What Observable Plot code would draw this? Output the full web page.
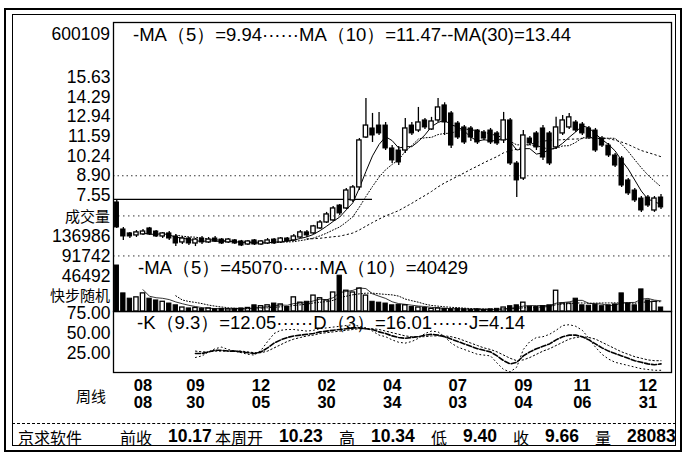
<!DOCTYPE html>
<html><head><meta charset="utf-8">
<script src="https://cdn.jsdelivr.net/npm/d3@7"></script>
<script src="https://cdn.jsdelivr.net/npm/@observablehq/plot@0.6"></script>
<style>
body{margin:0;background:#fff;}
#wrap{position:relative;width:685px;height:456px;overflow:hidden;font-family:"Liberation Sans",Arial,sans-serif;color:#000;background:#fff;}
#wrap svg{position:absolute;left:0;top:0;}
.t{position:absolute;white-space:nowrap;line-height:1;}
.cjk{font-family:"Noto Sans CJK SC",sans-serif;}
.box{position:absolute;box-sizing:border-box;}
</style></head><body><div id="wrap"></div>
<script>
// ---------- data ----------
const symbol = "600109";
const priceTicks = [15.63, 14.29, 12.94, 11.59, 10.24, 8.90, 7.55];
const priceGrid = [8.90];
const levelPrice = 7.28;          // solid horizontal level line
const levelSpan = [-0.5, 39];     // week index range of that line
const open  = [7.07,5.22,4.95,4.81,4.88,5.29,5.08,4.74,4.95,4.74,4.33,4.60,4.26,4.60,4.33,4.60,4.53,4.33,4.47,4.40,4.19,4.47,4.19,4.26,4.53,4.33,4.60,4.47,4.67,5.02,4.95,5.29,5.70,5.84,6.86,6.66,7.21,8.10,11.52,12.14,12.34,12.34,10.77,10.63,10.63,12.34,12.00,12.69,12.07,12.69,13.72,13.17,12.48,12.21,12.14,12.00,11.86,12.00,11.80,11.32,12.69,9.74,8.71,11.45,11.80,12.14,11.80,10.84,11.80,12.21,12.55,12.41,12.14,12.00,11.45,10.97,10.29,10.08,8.58,7.89,7.34,7.41,6.52,7.41];
const close = [5.36,4.74,4.74,5.02,5.08,4.88,4.74,4.95,4.60,4.26,4.60,4.26,4.53,4.33,4.53,4.40,4.26,4.53,4.26,4.12,4.40,4.19,4.40,4.47,4.26,4.60,4.40,4.74,5.02,4.81,5.43,5.70,6.25,6.66,6.32,7.89,8.10,11.32,12.34,11.66,11.80,10.77,9.95,9.81,12.14,11.80,12.55,12.21,12.62,13.58,12.55,10.97,11.52,11.18,11.52,11.18,11.45,11.18,11.11,12.69,9.74,8.58,11.66,11.11,10.84,10.15,9.74,12.21,12.69,12.90,12.00,11.80,11.52,10.63,10.97,10.29,9.60,8.23,7.69,7.21,6.52,6.86,7.34,6.73];
const high  = [7.21,5.36,5.02,5.15,5.22,5.36,5.15,5.02,5.08,4.88,4.74,4.67,4.60,4.74,4.67,4.74,4.60,4.60,4.53,4.47,4.47,4.53,4.47,4.60,4.60,4.67,4.67,4.88,5.15,5.15,5.50,5.84,6.39,6.80,6.93,8.03,8.23,11.45,14.20,13.17,13.24,12.55,10.97,10.90,12.82,12.55,13.58,12.82,12.90,14.20,13.90,13.30,12.62,12.34,12.28,12.07,12.00,12.14,11.93,13.24,12.82,9.88,12.00,11.59,11.93,12.34,11.93,12.90,13.03,13.17,12.69,12.55,12.28,12.14,11.59,11.11,10.43,10.22,8.71,8.03,7.48,7.55,7.48,7.62];
const low   = [5.29,4.47,4.60,4.67,4.81,4.81,4.67,4.60,4.47,4.05,4.19,4.12,4.05,4.19,4.26,4.33,4.19,4.26,4.19,4.05,4.12,4.12,4.12,4.19,4.19,4.26,4.33,4.40,4.60,4.67,4.88,5.22,5.63,5.77,6.18,6.59,7.07,7.90,11.45,11.18,11.66,10.63,9.74,9.60,10.43,11.66,11.86,12.07,12.00,12.55,11.66,10.77,11.38,11.04,11.25,11.04,11.30,11.04,10.97,11.11,9.60,7.41,8.58,10.97,10.63,9.95,9.60,10.70,11.66,12.07,11.86,11.66,11.38,10.50,10.84,10.15,9.47,8.10,7.55,7.07,6.39,6.73,6.39,6.59];
const volume = [104000,41000,29000,32000,41000,29000,25000,22000,18000,14000,9000,7000,8000,6000,7000,5000,6000,5000,6000,7000,8000,14000,12000,14000,18000,16000,10000,32000,20000,22000,36000,30000,25000,43000,81000,47000,43000,52000,36000,22000,20000,18000,14000,15000,14000,10000,9000,8000,6000,7000,6000,5000,6000,5000,4000,5000,4000,5000,6000,9000,12000,14000,20000,11000,10000,12000,14000,47000,18000,18000,29000,14000,13000,15000,12000,14000,16000,41000,18000,14000,50000,25000,22000,9000];
const volTicks = [136986, 91742, 46492];
const volGrid = [182230, 91742];
const kdjStart = 12;
const K = [25,25,27,29,29,28,28,27,26,25,27,32,38,42,45,47,48,49,50,52,53,54,55,56,57,57,56,55,52,50,47,45,44,45,46,48,49,48,46,43,40,37,34,31,29,27,22,16,12,14,22,27,31,34,37,42,46,48,48,46,42,37,32,28,25,22,19,16,14,12,11,12];
const D = [28,27,27,28,28,28,28,28,27,26,26,28,32,36,40,43,45,47,48,50,51,52,53,54,55,56,56,56,55,53,51,49,47,46,46,46,47,47,47,46,44,41,38,35,32,30,27,23,19,16,17,20,24,28,31,35,39,43,45,46,45,43,39,35,31,27,24,21,19,17,16,16];
const J = [20,22,27,31,33,30,28,26,24,23,29,40,50,54,55,55,54,53,54,56,57,58,59,60,61,59,57,53,48,46,42,39,38,40,44,50,53,52,46,38,33,30,27,24,23,22,13,5,2,8,30,40,45,46,49,54,60,61,59,54,44,33,24,18,14,12,10,8,6,5,4,4];
const kdjTicks = [75, 50, 25];
const dateTicks = [4, 12, 22, 32, 42, 52, 62, 71, 81];
const dateLabels = ["08\n08","09\n30","12\n05","02\n30","04\n34","07\n03","09\n04","11\n06","12\n31"];
const priceLegend = "-MA（5）=9.94······MA（10）=11.47--MA(30)=13.44";
const volLegend = "-MA（5）=45070······MA（10）=40429";
const kdjLegend = "-K（9.3）=12.05······D（3）=16.01······J=4.14";
const sideLabels = {vol: "成交量", kdj: "快步随机", period: "周线"};
const footerLabels = ["京求软件","前收","10.17","本周开","10.23","高","10.34","低","9.40","收","9.66","量","28083"];

// ---------- build ----------
const rows = open.map((o, i) => ({i, open: o, close: close[i], high: high[i], low: low[i], volume: volume[i]}));
const up = rows.filter(d => d.close >= d.open);
const down = rows.filter(d => d.close < d.open);
const kdjRows = K.map((k, j) => ({i: kdjStart + j, K: k, D: D[j], J: J[j]}));
const hw = 0.33;
const xDomain = [-0.5, 84.6];
const volShift = -15;
const common = {
  width: 685, height: 456, marginLeft: 113, marginRight: 14,
  style: {background: "transparent", fontFamily: "'Liberation Sans', Arial, sans-serif", overflow: "visible"}
};
const wrap = document.getElementById("wrap");

const pricePlot = Plot.plot({
  ...common, marginTop: 22, marginBottom: 145,
  x: {domain: xDomain, axis: null},
  y: {domain: [-0.4, 19.4], axis: null, label: null},
  marks: [
    Plot.ruleY(priceGrid, {stroke: "#000", strokeWidth: 0.8, strokeDasharray: "1.5,3"}),
    Plot.ruleY([levelPrice], {x1: levelSpan[0], x2: levelSpan[1], stroke: "#000", strokeWidth: 1.2}),
    Plot.lineY(rows, Plot.windowY({k: 30, anchor: "end", strict: true}, {x: "i", y: "close", stroke: "#000", strokeWidth: 1, strokeDasharray: "1.5,3"})),
    Plot.lineY(rows, Plot.windowY({k: 10, anchor: "end", strict: true}, {x: "i", y: "close", stroke: "#000", strokeWidth: 1, strokeDasharray: "1,2"})),
    Plot.lineY(rows, Plot.windowY({k: 5, anchor: "end", strict: true}, {x: "i", y: "close", stroke: "#000", strokeWidth: 1})),
    Plot.ruleX(rows, {x: "i", y1: "low", y2: "high", stroke: "#000", strokeWidth: 1.3}),
    Plot.rect(down, {x1: d => d.i - hw, x2: d => d.i + hw, y1: "open", y2: "close", fill: "#000", stroke: "#000", strokeWidth: 1}),
    Plot.rect(up, {x1: d => d.i - hw, x2: d => d.i + hw, y1: "open", y2: "close", fill: "#fff", stroke: "#000", strokeWidth: 1.3}),
    Plot.axisY(priceTicks, {anchor: "left", tickSize: 0, tickPadding: 3, fontSize: 17.5, tickFormat: d => d.toFixed(2), label: null}),
    Plot.frame({stroke: "#000", strokeWidth: 1.3})
  ]
});
wrap.appendChild(pricePlot);

const volPlot = Plot.plot({
  ...common, marginTop: 22, marginBottom: 145,
  x: {domain: xDomain, axis: null},
  y: {domain: [0, 653700], axis: null, label: null},
  marks: [
    Plot.ruleY(volGrid, {dy: volShift, stroke: "#000", strokeWidth: 0.8, strokeDasharray: "1.5,3.5"}),
    Plot.rect(down, {x1: d => d.i - hw, x2: d => d.i + hw, y1: 0, y2: "volume", fill: "#000", stroke: "#000", strokeWidth: 1}),
    Plot.rect(up, {x1: d => d.i - hw, x2: d => d.i + hw, y1: 0, y2: "volume", fill: "#fff", stroke: "#000", strokeWidth: 1.3}),
    Plot.lineY(rows, Plot.windowY({k: 10, anchor: "end", strict: true}, {x: "i", y: "volume", stroke: "#000", strokeWidth: 1, strokeDasharray: "1,2"})),
    Plot.lineY(rows, Plot.windowY({k: 5, anchor: "end", strict: true}, {x: "i", y: "volume", stroke: "#000", strokeWidth: 0.8})),
    Plot.axisY(volTicks, {anchor: "left", tickSize: 0, tickPadding: 3, fontSize: 17.5, dy: volShift, tickFormat: d => String(d), label: null})
  ]
});
wrap.appendChild(volPlot);

const kdjPlot = Plot.plot({
  ...common, marginTop: 311, marginBottom: 84,
  x: {domain: xDomain, axis: null},
  y: {domain: [0, 100], range: [373, 293], axis: null, label: null},
  marks: [
    Plot.lineY(kdjRows, {x: "i", y: "J", stroke: "#000", strokeWidth: 1, strokeDasharray: "1,3"}),
    Plot.lineY(kdjRows, {x: "i", y: "D", stroke: "#000", strokeWidth: 1, strokeDasharray: "1.5,2.5"}),
    Plot.lineY(kdjRows, {x: "i", y: "K", stroke: "#000", strokeWidth: 1.6, strokeDasharray: "5,2"}),
    Plot.axisY(kdjTicks, {anchor: "left", tickSize: 0, tickPadding: 3, fontSize: 17.5, tickFormat: d => d.toFixed(2), label: null}),
    Plot.axisX(dateTicks, {anchor: "bottom", tickSize: 0, tickPadding: 6, fontSize: 16.5, fontWeight: "bold", lineHeight: 1.05,
      tickFormat: d => dateLabels[dateTicks.indexOf(d)], label: null}),
    Plot.frame({stroke: "#000", strokeWidth: 1.3})
  ]
});
wrap.appendChild(kdjPlot);

// ---------- frames & text ----------
function box(l, t, w, h, css) {
  const b = document.createElement("div");
  b.className = "box";
  Object.assign(b.style, {left: l + "px", top: t + "px", width: w + "px", height: h + "px"}, css);
  wrap.appendChild(b);
}
box(4, 8, 678, 444, {border: "2px solid #000"});
box(12, 14, 664, 432, {border: "1px solid #000"});
box(12, 423, 664, 0, {borderTop: "1px dashed #000"});

function text(s, x, y, size, opts = {}) {
  const d = document.createElement("div");
  d.className = "t" + (opts.cjk ? " cjk" : "");
  d.textContent = s;
  d.style.fontSize = size + "px";
  d.style.top = (y - size / 2) + "px";
  if (opts.right != null) d.style.right = (685 - opts.right) + "px"; else d.style.left = x + "px";
  if (opts.bold) d.style.fontWeight = "bold";
  wrap.appendChild(d);
}
text(symbol, 0, 35, 17.5, {right: 110});
text(sideLabels.vol, 0, 215, 15, {right: 110, cjk: true});
text(sideLabels.kdj, 0, 294, 15, {right: 110, cjk: true});
text(sideLabels.period, 76, 395, 15, {cjk: true});
text(priceLegend, 133, 35, 18.5);
text(volLegend, 138, 268, 18.5);
text(kdjLegend, 137, 323, 18.5);
const footX = [18, 120, 168, 215, 279, 339, 371, 431, 463, 513, 545, 595, 627];
footerLabels.forEach((s, k) => {
  const isNum = /\d/.test(s);
  text(s, footX[k], 437, isNum ? 17.5 : 16, {cjk: !isNum, bold: isNum});
});
</script></body></html>
